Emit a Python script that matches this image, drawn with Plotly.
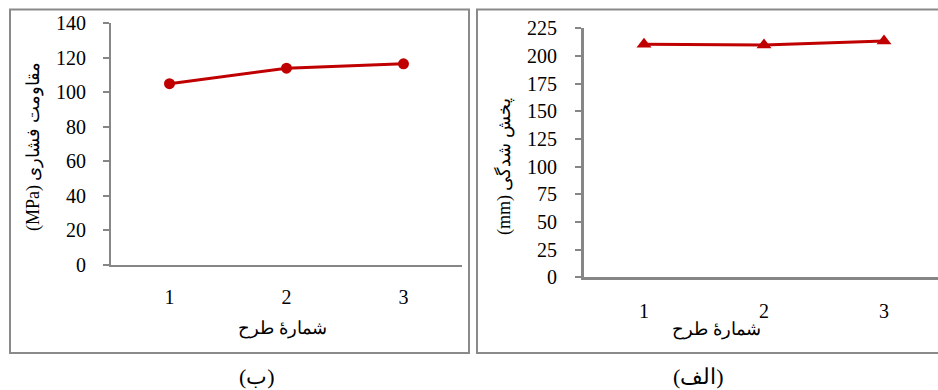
import plotly.graph_objects as go

W, H = 938, 390

# Data
designs = [1, 2, 3]
design_labels = ["1", "2", "3"]
strength_mpa = [105, 114, 116.5]          # مقاومت فشاری (MPa)
spread_mm = [210.5, 210, 213.5]           # پخش شدگی (mm)

strength_ticks = [0, 20, 40, 60, 80, 100, 120, 140]
spread_ticks = [0, 25, 50, 75, 100, 125, 150, 175, 200, 225]

RED = "#C00000"
AXIS_GREY = "#868686"
BORDER_GREY = "#8a8a8a"
SERIF = "Liberation Serif, Times New Roman, serif"


def px_x(v):
    return v / W


def px_y(v):
    return 1 - v / H


fig = go.Figure()

# Panel (ب): compressive strength
fig.add_trace(go.Scatter(
    x=designs, y=strength_mpa, mode="lines+markers",
    line=dict(color=RED, width=3),
    marker=dict(symbol="circle", size=11, color=RED),
    xaxis="x", yaxis="y", showlegend=False, cliponaxis=False,
))

# Panel (الف): spread
fig.add_trace(go.Scatter(
    x=designs, y=spread_mm, mode="lines+markers",
    line=dict(color=RED, width=3),
    marker=dict(symbol="triangle-up", size=13, color=RED),
    xaxis="x2", yaxis="y2", showlegend=False, cliponaxis=False,
))

tickfont = dict(family=SERIF, size=20, color="black")

common = dict(showgrid=False, zeroline=False, tickfont=tickfont, automargin=False)

fig.update_layout(
    width=W, height=H, autosize=False,
    margin=dict(l=0, r=0, t=0, b=0, pad=0, autoexpand=False),
    paper_bgcolor="white", plot_bgcolor="white",
    xaxis=dict(
        domain=[px_x(111), px_x(462)], range=[0.5, 3.5],
        tickvals=designs, ticktext=design_labels, ticks="",
        showline=True, linecolor=AXIS_GREY, linewidth=2,
        ticklabelstandoff=13, anchor="y", **common,
    ),
    yaxis=dict(
        domain=[px_y(265), px_y(23.3)], range=[0, 140],
        tickvals=strength_ticks, ticks="outside", ticklen=6,
        tickwidth=2, tickcolor=AXIS_GREY,
        showline=True, linecolor=AXIS_GREY, linewidth=2,
        ticklabelstandoff=13, anchor="x", **common,
    ),
    xaxis2=dict(
        domain=[px_x(584), 1.0], range=[0.5, 0.5 + 354 / 120],
        tickvals=designs, ticktext=design_labels, ticks="",
        showline=True, linecolor=AXIS_GREY, linewidth=3,
        ticklabelstandoff=14, anchor="y2", **common,
    ),
    yaxis2=dict(
        domain=[px_y(277.3), px_y(28.3)], range=[0, 225],
        tickvals=spread_ticks, ticks="outside", ticklen=6,
        tickwidth=2, tickcolor=AXIS_GREY,
        showline=True, linecolor=AXIS_GREY, linewidth=3,
        ticklabelstandoff=14, anchor="x2", **common,
    ),
)

# Panel frames
fig.add_shape(type="rect", xref="paper", yref="paper",
              x0=px_x(10), x1=px_x(469), y0=px_y(353), y1=px_y(9.5),
              line=dict(color=BORDER_GREY, width=2), fillcolor="rgba(0,0,0,0)",
              layer="below")
fig.add_shape(type="rect", xref="paper", yref="paper",
              x0=px_x(477), x1=px_x(945), y0=px_y(353), y1=px_y(9.5),
              line=dict(color=BORDER_GREY, width=2), fillcolor="rgba(0,0,0,0)",
              layer="below")

textfont = dict(family=SERIF, size=18, color="black")
captionfont = dict(family=SERIF, size=22, color="black")

annotations = [
    # axis titles
    dict(x=px_x(33), y=px_y(147), text="(MPa) مقاومت فشاری", textangle=-90, font=textfont),
    dict(x=px_x(504), y=px_y(167), text="(mm) پخش شدگی", textangle=-90, font=textfont),
    dict(x=px_x(282), y=px_y(328), text="شمارهٔ طرح", font=textfont),
    dict(x=px_x(716), y=px_y(329), text="شمارهٔ طرح", font=textfont),
    # panel captions
    dict(x=px_x(257), y=px_y(376), text="(ب)", font=captionfont),
    dict(x=px_x(698), y=px_y(376), text="(الف)", font=captionfont),
]
for a in annotations:
    fig.add_annotation(xref="paper", yref="paper", showarrow=False,
                       xanchor="center", yanchor="middle", **a)

fig.write_html("out.html")
